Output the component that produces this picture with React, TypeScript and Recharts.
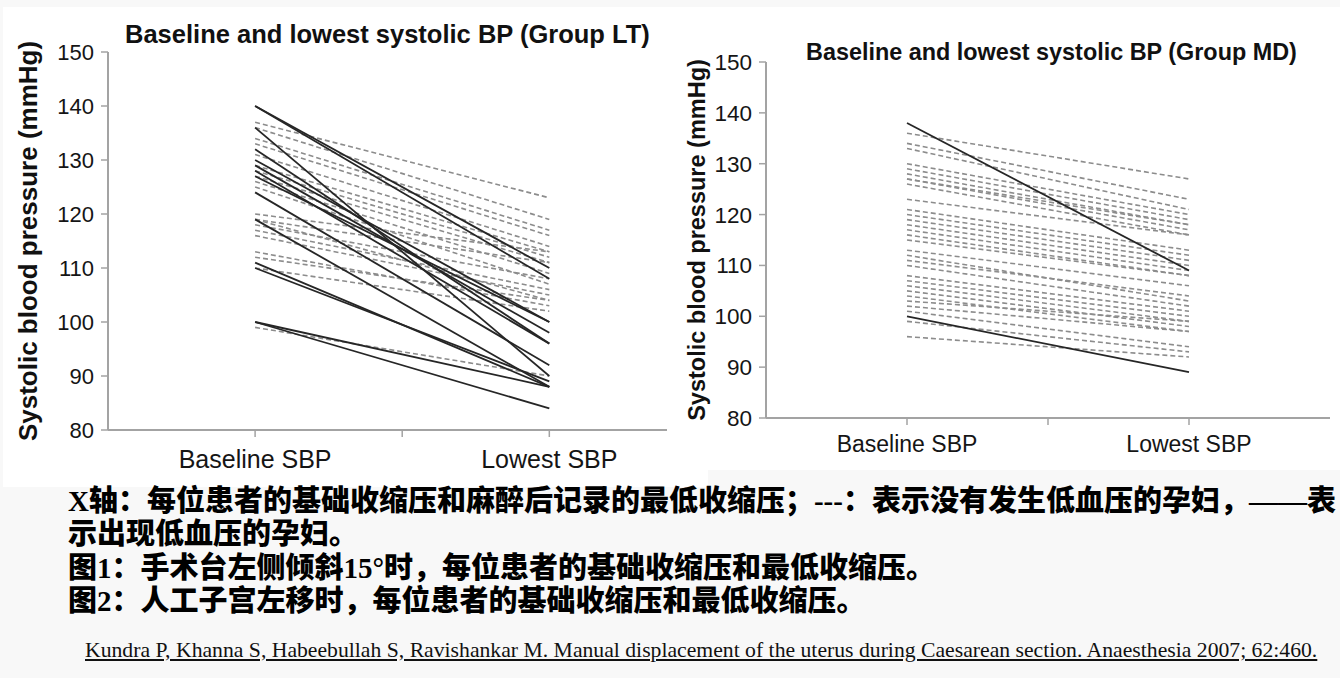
import React from 'react';
import { LineChart, Line, XAxis, YAxis } from 'recharts';

// ---------- data ----------
const yTicks = [80, 90, 100, 110, 120, 130, 140, 150];
const xTicks = [1, 2, 3];
const xTickLabels = ['', 'Baseline SBP', '', 'Lowest SBP'];
const xBaseline = 1;
const xLowest = 3;

const titleLT = 'Baseline and lowest systolic BP (Group LT)';
const titleMD = 'Baseline and lowest systolic BP (Group MD)';
const yAxisTitle = 'Systolic blood pressure (mmHg)';

// Group LT – solid lines (hypotension)
const ltSolidBaseline = [140, 140, 136, 132, 130, 129, 128, 127, 124, 119, 111, 110, 100, 100];
const ltSolidLowest = [110, 108, 90, 96, 100, 98, 96, 100, 92, 88, 88, 89, 88, 84];
// Group LT – dashed lines (no hypotension)
const ltDashedBaseline = [137, 136, 134, 133, 131, 129, 128, 127, 126, 125, 120, 119, 118, 117, 116, 119, 113, 112, 110, 99];
const ltDashedLowest = [123, 119, 117, 116, 114, 113, 112, 111, 109, 107, 113, 111, 108, 106, 105, 104, 103, 104, 102, 90];

// Group MD – solid lines
const mdSolidBaseline = [138, 100];
const mdSolidLowest = [109, 89];
// Group MD – dashed lines
const mdDashedBaseline = [136, 134, 133, 130, 129, 128, 127, 127, 126, 123, 121, 120, 119, 118, 117, 116, 115, 113, 112, 111, 110, 108, 107, 106, 105, 104, 103, 102, 101, 99, 96];
const mdDashedLowest = [127, 123, 121, 120, 119, 118, 118, 117, 116, 116, 113, 112, 111, 110, 109, 108, 108, 106, 103, 104, 102, 101, 100, 99, 98, 97, 99, 97, 94, 93, 92];

const captionLines = [
  'X轴：每位患者的基础收缩压和麻醉后记录的最低收缩压；---：表示没有发生低血压的孕妇，——表',
  '示出现低血压的孕妇。',
  '图1：手术台左侧倾斜15°时，每位患者的基础收缩压和最低收缩压。',
  '图2：人工子宫左移时，每位患者的基础收缩压和最低收缩压。',
];
const citation =
  'Kundra P, Khanna S, Habeebullah S, Ravishankar M. Manual displacement of the uterus during Caesarean section. Anaesthesia 2007; 62:460.';

// ---------- helpers ----------
function buildRows(sb: number[], sl: number[], db: number[], dl: number[]) {
  const base: Record<string, number> = { x: xBaseline };
  const low: Record<string, number> = { x: xLowest };
  sb.forEach((v, i) => {
    base['s' + i] = v;
    low['s' + i] = sl[i];
  });
  db.forEach((v, i) => {
    base['d' + i] = v;
    low['d' + i] = dl[i];
  });
  return [base, low];
}

const SANS = "'Liberation Sans', Arial, Helvetica, sans-serif";
const AXIS = '#a3a3a3';

type PanelProps = {
  rows: Record<string, number>[];
  nSolid: number;
  nDashed: number;
  width: number;
  height: number;
  margin: { top: number; right: number; bottom: number; left: number };
  yAxisWidth: number;
  xMax: number;
  yTickFont: number;
  xTickFont: number;
  xTickMargin: number;
  yLabelX: number;
  yLabelFont: number;
};

function Panel(p: PanelProps) {
  const renderYLabel = (props: any) => {
    const vb = props.viewBox || {};
    const cy = (vb.y || 0) + (vb.height || 0) / 2;
    const x = (vb.x || 0) + p.yLabelX;
    return (
      <text
        x={x}
        y={cy}
        transform={`rotate(-90, ${x}, ${cy})`}
        textAnchor="middle"
        fontSize={p.yLabelFont}
        fontWeight="bold"
        fontFamily={SANS}
        fill="#111"
      >
        {yAxisTitle}
      </text>
    );
  };
  return (
    <LineChart width={p.width} height={p.height} data={p.rows} margin={p.margin}>
      <XAxis
        type="number"
        dataKey="x"
        domain={[0, p.xMax]}
        allowDataOverflow
        ticks={xTicks}
        interval={0}
        tickFormatter={(v: number) => xTickLabels[v] || ''}
        axisLine={{ stroke: AXIS, strokeWidth: 2 }}
        tickLine={{ stroke: AXIS, strokeWidth: 1.5 }}
        tickSize={7}
        tickMargin={p.xTickMargin}
        height={44}
        tick={{ fill: '#151515', fontSize: p.xTickFont, fontFamily: SANS }}
      />
      <YAxis
        type="number"
        domain={[80, 150]}
        allowDataOverflow
        ticks={yTicks}
        interval={0}
        width={p.yAxisWidth}
        axisLine={{ stroke: AXIS, strokeWidth: 2 }}
        tickLine={{ stroke: AXIS, strokeWidth: 1.5 }}
        tickSize={7}
        tickMargin={7}
        tick={{ fill: '#151515', fontSize: p.yTickFont, fontFamily: SANS }}
        label={{ content: renderYLabel }}
      />
      {Array.from({ length: p.nDashed }, (_, i) => (
        <Line
          key={'d' + i}
          dataKey={'d' + i}
          stroke="#8c8c8c"
          strokeWidth={1.6}
          strokeDasharray="5 3"
          dot={false}
          activeDot={false}
          isAnimationActive={false}
          type="linear"
        />
      ))}
      {Array.from({ length: p.nSolid }, (_, i) => (
        <Line
          key={'s' + i}
          dataKey={'s' + i}
          stroke="#262626"
          strokeWidth={1.8}
          dot={false}
          activeDot={false}
          isAnimationActive={false}
          type="linear"
        />
      ))}
    </LineChart>
  );
}

export default function App() {
  const ltRows = buildRows(ltSolidBaseline, ltSolidLowest, ltDashedBaseline, ltDashedLowest);
  const mdRows = buildRows(mdSolidBaseline, mdSolidLowest, mdDashedBaseline, mdDashedLowest);
  const captionTops = [484, 517, 551, 584];
  return (
    <div
      style={{
        position: 'absolute',
        left: 0,
        top: 0,
        width: 1340,
        height: 678,
        background: '#f8f8f8',
        overflow: 'hidden',
      }}
    >
      <div style={{ position: 'absolute', left: 3, top: 7, width: 705, height: 480, background: '#fff' }} />
      <div style={{ position: 'absolute', left: 668, top: 7, width: 672, height: 463, background: '#fff' }} />

      <div style={{ position: 'absolute', left: 0, top: 0 }}>
        <Panel
          rows={ltRows}
          nSolid={ltSolidBaseline.length}
          nDashed={ltDashedBaseline.length}
          width={670}
          height={484}
          margin={{ top: 52, right: 3, bottom: 10, left: 0 }}
          yAxisWidth={108}
          xMax={3.8}
          yTickFont={22}
          xTickFont={25}
          xTickMargin={13}
          yLabelX={37}
          yLabelFont={26}
        />
      </div>
      <div style={{ position: 'absolute', left: 670, top: 0 }}>
        <Panel
          rows={mdRows}
          nSolid={mdSolidBaseline.length}
          nDashed={mdDashedBaseline.length}
          width={670}
          height={484}
          margin={{ top: 62, right: 10, bottom: 22, left: 0 }}
          yAxisWidth={96}
          xMax={4}
          yTickFont={22.5}
          xTickFont={23}
          xTickMargin={11}
          yLabelX={35}
          yLabelFont={23.5}
        />
      </div>

      <div
        style={{
          position: 'absolute',
          left: 125,
          top: 19,
          fontFamily: SANS,
          fontWeight: 'bold',
          fontSize: 25.5,
          lineHeight: '30px',
          color: '#111',
          whiteSpace: 'nowrap',
        }}
      >
        {titleLT}
      </div>
      <div
        style={{
          position: 'absolute',
          left: 806,
          top: 38,
          fontFamily: SANS,
          fontWeight: 'bold',
          fontSize: 23.4,
          lineHeight: '28px',
          color: '#111',
          whiteSpace: 'nowrap',
        }}
      >
        {titleMD}
      </div>

      {captionLines.map((t, i) => (
        <div
          key={i}
          style={{
            position: 'absolute',
            left: 68,
            top: captionTops[i],
            fontFamily: "'Liberation Serif', 'Times New Roman', 'Noto Sans CJK SC', serif",
            fontWeight: 900,
            fontSize: 29,
            lineHeight: '34px',
            color: '#000',
            whiteSpace: 'nowrap',
          }}
        >
          {t}
        </div>
      ))}

      <div
        style={{
          position: 'absolute',
          left: 85,
          top: 637,
          fontFamily: "'Liberation Serif', 'Times New Roman', serif",
          fontSize: 21.7,
          lineHeight: '26px',
          color: '#111',
          textDecoration: 'underline',
          whiteSpace: 'nowrap',
        }}
      >
        {citation}
      </div>
    </div>
  );
}
